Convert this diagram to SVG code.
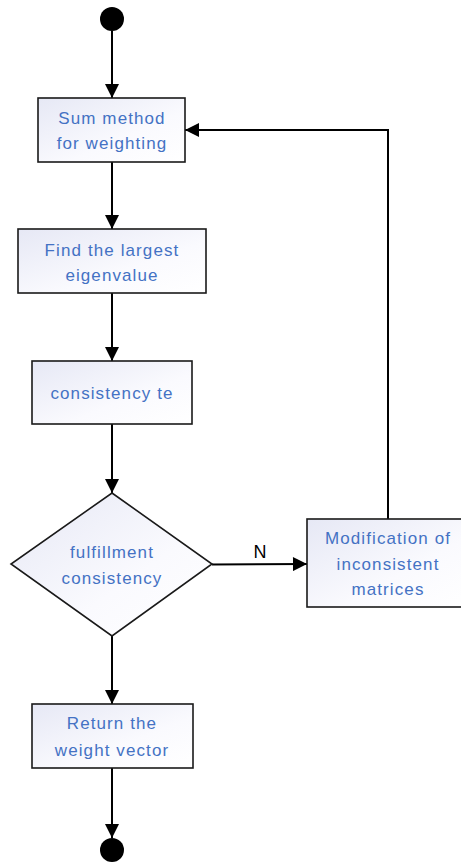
<svg xmlns="http://www.w3.org/2000/svg" width="461" height="863" viewBox="0 0 461 863">
<defs>
<linearGradient id="g" x1="0" y1="0" x2="1" y2="1">
<stop offset="0" stop-color="#E6E8F5"/>
<stop offset="0.6" stop-color="#FAFAFE"/>
<stop offset="1" stop-color="#FFFFFF"/>
</linearGradient>
<marker id="arr" viewBox="0 0 12 12" refX="12" refY="6" markerWidth="7.5" markerHeight="7" orient="auto" markerUnits="strokeWidth">
<path d="M0,0 L12,6 L0,12 Z" fill="#000"/>
</marker>
<style>
.box{fill:url(#g);stroke:#1a1a1a;stroke-width:1.6}
.t{font-family:"Liberation Sans",Arial,sans-serif;font-size:17px;fill:#4472C4;text-anchor:middle;letter-spacing:1.1px}
.c{fill:none;stroke:#000;stroke-width:2}
.lab{font-family:"Liberation Sans",Arial,sans-serif;font-size:18px;fill:#000;text-anchor:middle}
</style>
</defs>
<g id="connectors">
<line class="c" x1="112" y1="31" x2="112" y2="98" marker-end="url(#arr)"/>
<line class="c" x1="112" y1="162" x2="112" y2="229" marker-end="url(#arr)"/>
<line class="c" x1="112" y1="293" x2="112" y2="361" marker-end="url(#arr)"/>
<line class="c" x1="112" y1="424" x2="112" y2="493" marker-end="url(#arr)"/>
<line class="c" x1="112" y1="636" x2="112" y2="704" marker-end="url(#arr)"/>
<line class="c" x1="112" y1="768" x2="112" y2="838" marker-end="url(#arr)"/>
<line class="c" x1="212" y1="564.5" x2="307" y2="564" marker-end="url(#arr)"/>
<polyline class="c" points="388,519 388,130 185,130" marker-end="url(#arr)"/>
<text class="lab" x="260" y="558">N</text>
</g>
<g id="start"><circle cx="112" cy="19" r="12" fill="#000"/></g>
<g id="sum">
<rect class="box" x="38" y="98" width="147" height="64"/>
<text class="t" x="112" y="124">Sum method</text>
<text class="t" x="112" y="149">for weighting</text>
</g>
<g id="eigen">
<rect class="box" x="18" y="229" width="188" height="64"/>
<text class="t" x="112" y="256">Find the largest</text>
<text class="t" x="112" y="281">eigenvalue</text>
</g>
<g id="test">
<rect class="box" x="32" y="361" width="160" height="63"/>
<text class="t" x="112" y="399">consistency te</text>
</g>
<g id="decision">
<polygon class="box" points="112,493 212,564 112,636 11,564"/>
<text class="t" x="112" y="558">fulfillment</text>
<text class="t" x="112" y="584">consistency</text>
</g>
<g id="modify">
<rect class="box" x="307" y="519" width="162" height="88"/>
<text class="t" x="388" y="544">Modification of</text>
<text class="t" x="388" y="570">inconsistent</text>
<text class="t" x="388" y="595">matrices</text>
</g>
<g id="return">
<rect class="box" x="32" y="704" width="161" height="64"/>
<text class="t" x="112" y="729">Return the</text>
<text class="t" x="112" y="756">weight vector</text>
</g>
<g id="end"><circle cx="112" cy="850" r="12" fill="#000"/></g>
</svg>
